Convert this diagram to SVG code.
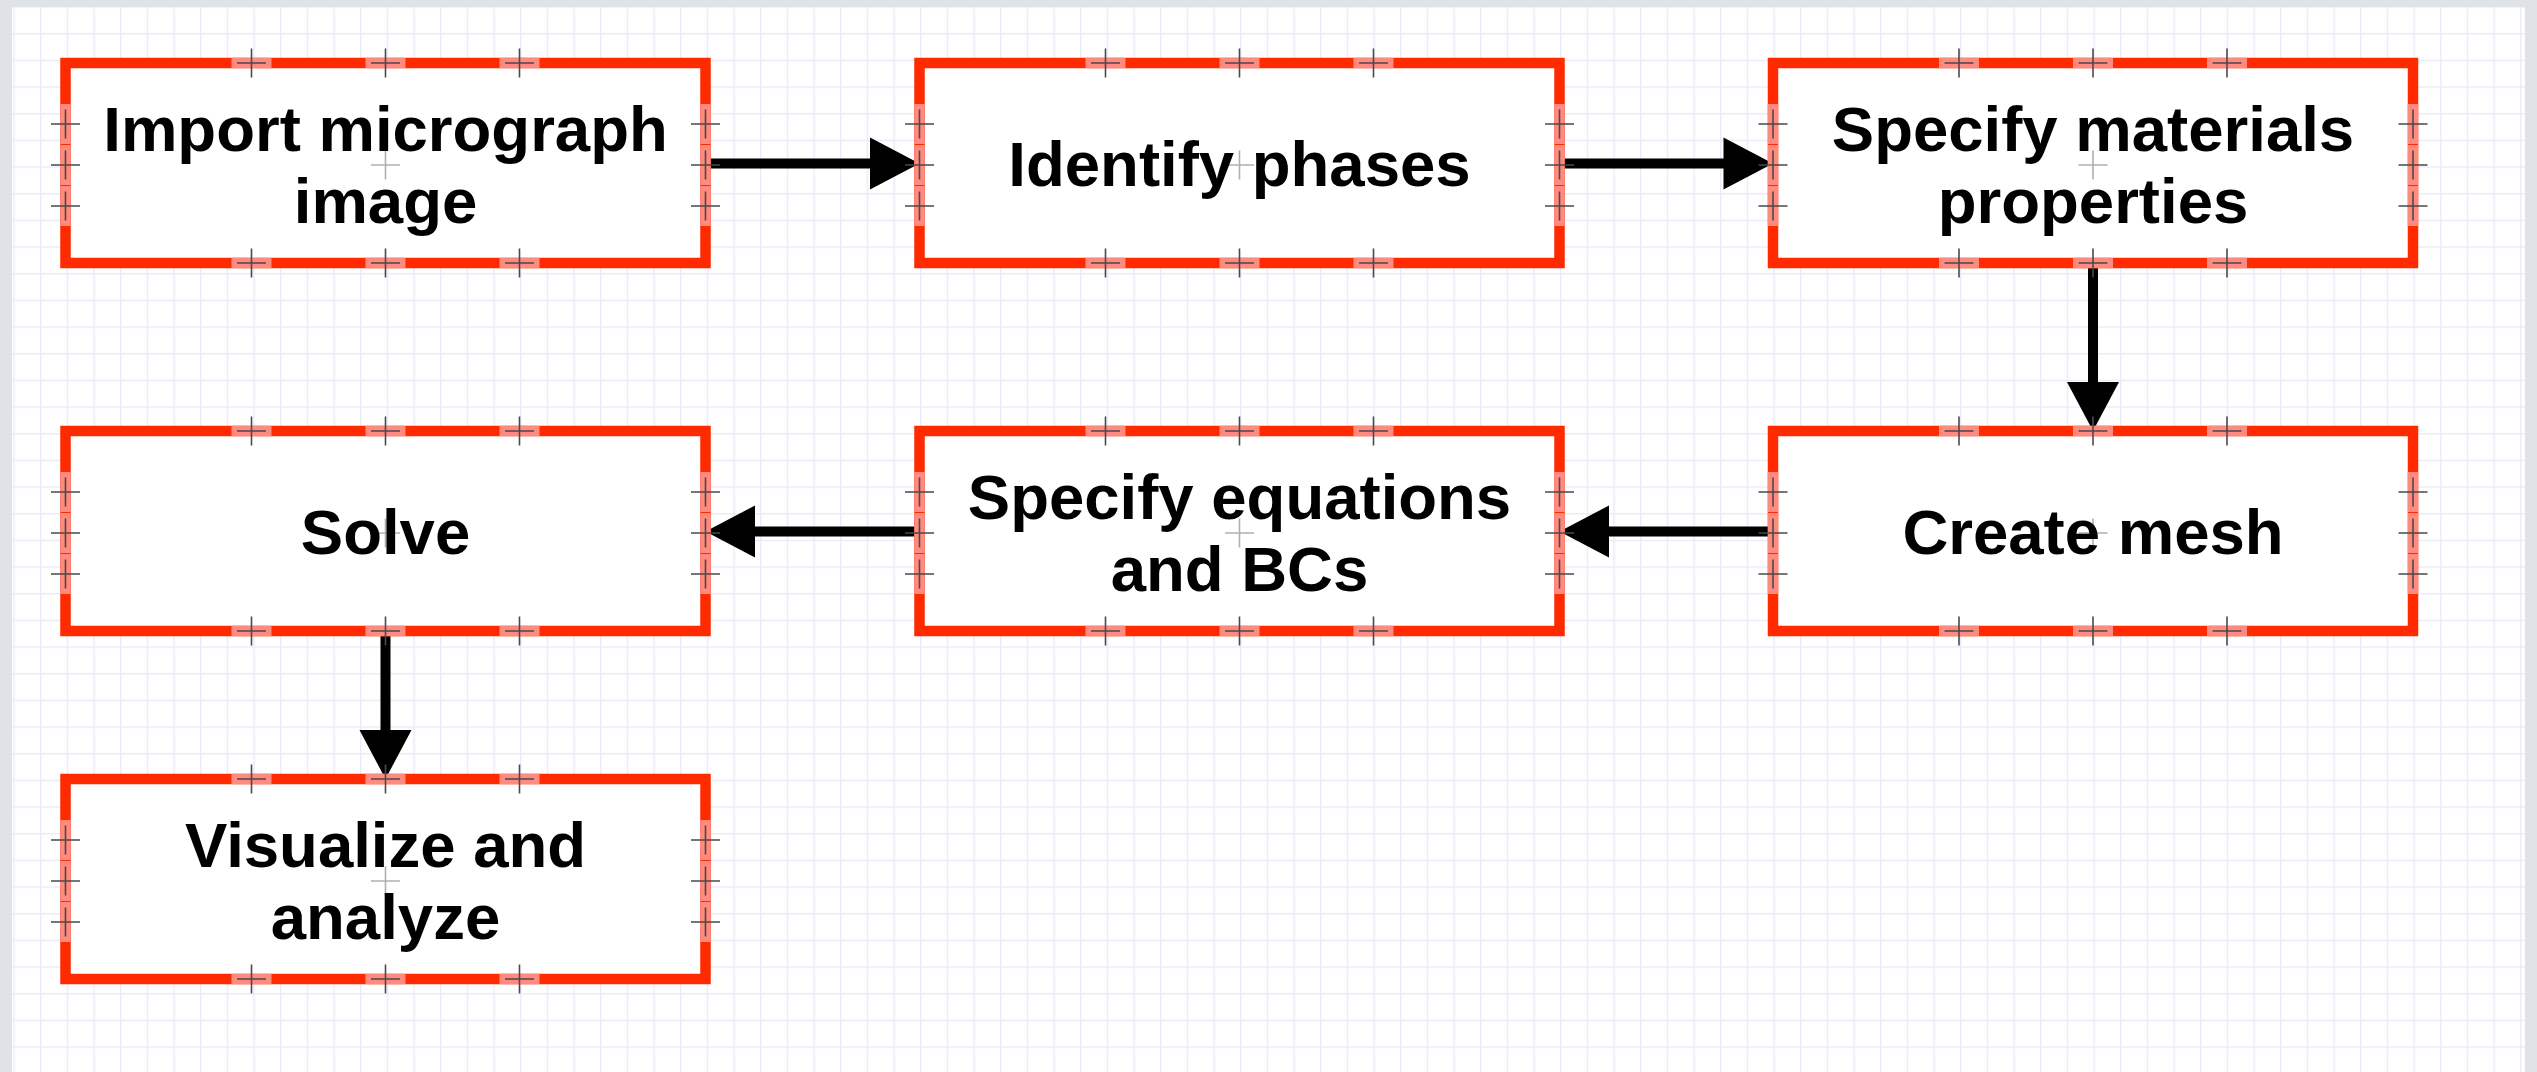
<svg xmlns="http://www.w3.org/2000/svg" xmlns:xlink="http://www.w3.org/1999/xlink" width="2537" height="1072" viewBox="0 0 2537 1072">
<style>
.box{fill:#ffffff;stroke:#ff2a00;stroke-width:10.5}
.pink{stroke:#ff8a80;stroke-width:10.5;fill:none}
.cross{stroke:#4a4a4a;stroke-width:1.6;fill:none}
.ccross{stroke:#b0b0b0;stroke-width:1.6;fill:none}
.lbl{font-family:"Liberation Sans",Arial,Helvetica,sans-serif;font-weight:bold;font-size:63.5px;fill:#000;text-anchor:middle}
.conn{stroke:#000;stroke-width:10;fill:none}
.head{fill:#000}
</style>
<defs>
<pattern id="grid" patternUnits="userSpaceOnUse" x="40" y="33" width="26.667" height="26.667">
<rect x="0" y="0" width="26.667" height="1.4" fill="#eaeafa"/>
<rect x="0" y="0" width="1.4" height="26.667" fill="#eaeafa"/>
</pattern>
<g id="deco">
<path class="pink" d="M166 0H206M300 0H340M434 0H474M166 200H206M300 200H340M434 200H474M0 41V81M0 82V122M0 123V163M640 41V81M640 82V122M640 123V163"/>
<path class="cross" d="M186 -14.5V14.5M171.5 0H200.5M320 -14.5V14.5M305.5 0H334.5M454 -14.5V14.5M439.5 0H468.5M186 185.5V214.5M171.5 200H200.5M320 185.5V214.5M305.5 200H334.5M454 185.5V214.5M439.5 200H468.5M-14.5 61H14.5M0 46.5V75.5M-14.5 102H14.5M0 87.5V116.5M-14.5 143H14.5M0 128.5V157.5M625.5 61H654.5M640 46.5V75.5M625.5 102H654.5M640 87.5V116.5M625.5 143H654.5M640 128.5V157.5"/>
<path class="ccross" d="M305.5 102H334.5M320 87.5V116.5"/>
</g>
</defs>
<rect x="0" y="0" width="2537" height="1072" fill="#dfe2e7"/>
<rect x="12" y="7" width="2513" height="1065" fill="#ffffff"/>
<rect x="12" y="7" width="2513" height="1065" fill="url(#grid)"/>
<g id="connectors">
<path class="conn" d="M705.5 163.5H872"/>
<path class="head" d="M870 137.5L919.5 163.5L870 189.5Z"/>
<path class="conn" d="M1559.5 163.5H1725"/>
<path class="head" d="M1723.5 137.5L1773 163.5L1723.5 189.5Z"/>
<path class="conn" d="M2093 263V384"/>
<path class="head" d="M2067 382L2093 431L2119 382Z"/>
<path class="conn" d="M1773 531.5H1608"/>
<path class="head" d="M1609 505.5L1559.5 531.5L1609 557.5Z"/>
<path class="conn" d="M919.5 531.5H754"/>
<path class="head" d="M755 505.5L705.5 531.5L755 557.5Z"/>
<path class="conn" d="M385.5 631V732"/>
<path class="head" d="M359.5 730L385.5 779L411.5 730Z"/>
</g>
<g id="node1">
<rect class="box" x="65.5" y="63" width="640" height="200"/>
<use xlink:href="#deco" x="65.5" y="63"/>
<text class="lbl" x="385.5" y="151">Import micrograph</text>
<text class="lbl" x="385.5" y="223">image</text>
</g>
<g id="node2">
<rect class="box" x="919.5" y="63" width="640" height="200"/>
<use xlink:href="#deco" x="919.5" y="63"/>
<text class="lbl" x="1239.5" y="186">Identify phases</text>
</g>
<g id="node3">
<rect class="box" x="1773" y="63" width="640" height="200"/>
<use xlink:href="#deco" x="1773" y="63"/>
<text class="lbl" x="2093" y="151">Specify materials</text>
<text class="lbl" x="2093" y="223">properties</text>
</g>
<g id="node4">
<rect class="box" x="1773" y="431" width="640" height="200"/>
<use xlink:href="#deco" x="1773" y="431"/>
<text class="lbl" x="2093" y="554">Create mesh</text>
</g>
<g id="node5">
<rect class="box" x="919.5" y="431" width="640" height="200"/>
<use xlink:href="#deco" x="919.5" y="431"/>
<text class="lbl" x="1239.5" y="519">Specify equations</text>
<text class="lbl" x="1239.5" y="591">and BCs</text>
</g>
<g id="node6">
<rect class="box" x="65.5" y="431" width="640" height="200"/>
<use xlink:href="#deco" x="65.5" y="431"/>
<text class="lbl" x="385.5" y="554">Solve</text>
</g>
<g id="node7">
<rect class="box" x="65.5" y="779" width="640" height="200"/>
<use xlink:href="#deco" x="65.5" y="779"/>
<text class="lbl" x="385.5" y="867">Visualize and</text>
<text class="lbl" x="385.5" y="939">analyze</text>
</g>
</svg>
